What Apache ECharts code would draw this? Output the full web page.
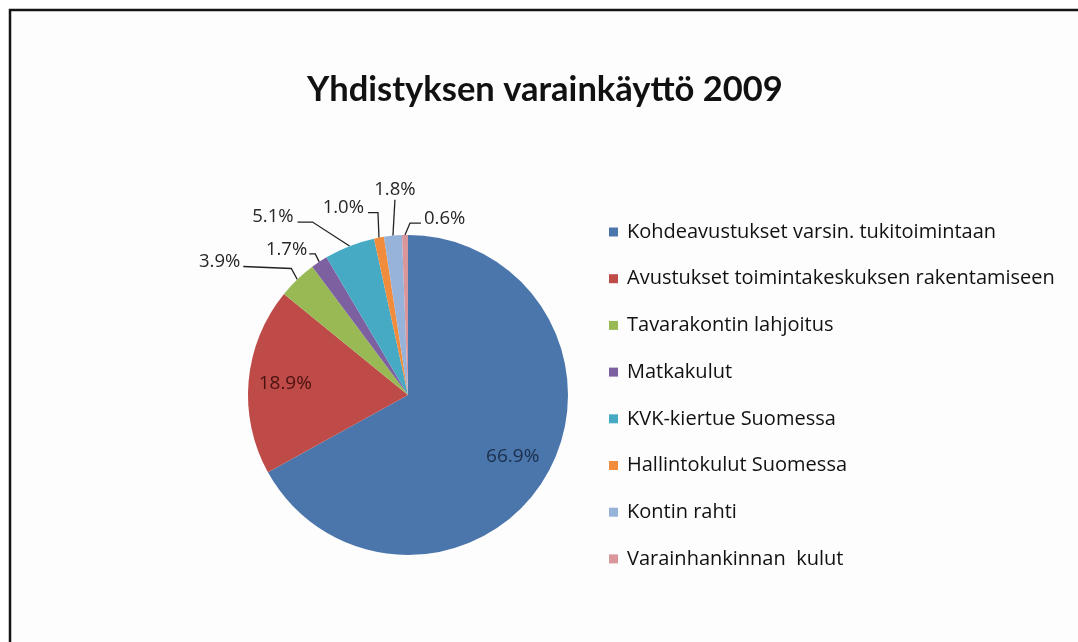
<!DOCTYPE html>
<html><head><meta charset="utf-8">
<script src="https://cdn.jsdelivr.net/npm/echarts/dist/echarts.min.js"></script>
<style>html,body{margin:0;padding:0;background:#fff}#c{width:1078px;height:642px}</style>
</head><body><div id="c"></div>
<script>
// ---- data ----
const titleText = 'Yhdistyksen varainkäyttö 2009';
const categories = [
  'Kohdeavustukset varsin. tukitoimintaan',
  'Avustukset toimintakeskuksen rakentamiseen',
  'Tavarakontin lahjoitus',
  'Matkakulut',
  'KVK-kiertue Suomessa',
  'Hallintokulut Suomessa',
  'Kontin rahti',
  'Varainhankinnan  kulut'
];
const shares = [66.9, 18.9, 3.9, 1.7, 5.1, 1.0, 1.8, 0.6];

// ---- styling / layout (not data) ----
const colors = ['#4A76AC', '#BE4B48', '#98B954', '#7D60A0', '#46AAC5', '#F08C3C', '#98B3DA', '#D9979C'];
const insideLabelColors = ['#1B2E4A', '#4A1210'];
const FONT = '"Open Sans", Lato, sans-serif';
const TITLE_FONT = 'Lato, "Open Sans", sans-serif';
const CX = 408, CY = 395, R = 160;
const insideFrac = {0: 0.76, 1: 0.77};
// leader line: elbow and end offsets relative to the library's anchor point on the slice edge
const outside = {
  2: {elbow: [-6, -11], end: [-54, -13], tx: -3, ty: -5, align: 'right'},
  3: {elbow: [-4, -8], end: [-10, -8], tx: -2, ty: -4, align: 'right'},
  4: {elbow: [-37, -24], end: [-52, -24], tx: -4, ty: -5, align: 'right'},
  5: {elbow: [-1, -25], end: [-11, -25], tx: -4, ty: -5, align: 'right'},
  6: {elbow: [2, -36], end: [2, -36], tx: 0, ty: -10, align: 'center'},
  7: {elbow: [5, -12], end: [16, -12], tx: 3, ty: -4, align: 'left'}
};

const seriesData = categories.map((name, i) => {
  const d = {name: name, value: shares[i], itemStyle: {color: colors[i]}};
  if (i < 2) {
    d.label = {position: 'inside', color: insideLabelColors[i], fontSize: 19};
    d.labelLine = {show: false};
  }
  return d;
});

const chart = echarts.init(document.getElementById('c'), null, {renderer: 'canvas'});
chart.setOption({
  animation: false,
  backgroundColor: '#ffffff',
  graphic: [{
    type: 'rect', silent: true, z: -1,
    shape: {x: 10, y: 10, width: 1120, height: 700},
    style: {fill: '#fdfdfd', stroke: '#141414', lineWidth: 2.5}
  }],
  title: {
    text: titleText,
    left: 302,
    top: 67,
    textStyle: {fontFamily: TITLE_FONT, fontSize: 34.5, fontWeight: 'bold', color: '#111'}
  },
  legend: {
    orient: 'vertical',
    left: 604,
    top: 216,
    icon: 'rect',
    itemWidth: 9,
    itemHeight: 9,
    itemGap: 24.7,
    selectedMode: false,
    textStyle: {fontFamily: FONT, fontSize: 20, color: '#111', lineHeight: 22, padding: [0, 0, 0, 4]},
    data: categories
  },
  series: [{
    type: 'pie',
    center: [CX, CY],
    radius: [0, R],
    startAngle: 90,
    clockwise: true,
    avoidLabelOverlap: false,
    itemStyle: {borderWidth: 0},
    label: {
      show: true,
      position: 'outside',
      fontFamily: FONT,
      fontSize: 18.5,
      color: '#262626',
      formatter: p => p.value.toFixed(1) + '%'
    },
    labelLine: {show: true, length: 10, length2: 10, smooth: false, lineStyle: {color: '#222', width: 1.3}},
    labelLayout: function (p) {
      const i = p.dataIndex;
      if (i < 2) {
        const lx = p.labelRect.x + p.labelRect.width / 2;
        const ly = p.labelRect.y + p.labelRect.height / 2;
        const dx = lx - CX, dy = ly - CY;
        const d = Math.hypot(dx, dy) || 1;
        const rr = R * insideFrac[i];
        return {x: CX + dx / d * rr, y: CY + dy / d * rr, align: 'center', verticalAlign: 'middle'};
      }
      const pts = p.labelLinePoints;
      if (!pts) return {};
      const a = pts[0], o = outside[i];
      const e = [a[0] + o.elbow[0], a[1] + o.elbow[1]];
      const t = [a[0] + o.end[0], a[1] + o.end[1]];
      return {
        x: t[0] + o.tx, y: t[1] + o.ty,
        align: o.align, verticalAlign: 'middle',
        labelLinePoints: [a, e, t]
      };
    },
    data: seriesData
  }]
});
</script>
</body></html>
